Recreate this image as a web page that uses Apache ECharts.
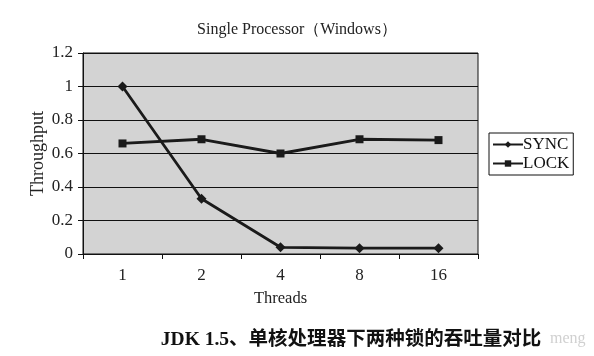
<!DOCTYPE html>
<html><head><meta charset="utf-8">
<script src="https://cdn.jsdelivr.net/npm/echarts@6/dist/echarts.min.js"></script>
<style>html,body{margin:0;padding:0;background:#fff}#c{width:594px;height:356px}</style>
</head><body><div id="c"></div>
<script>
const categories = ['1','2','4','8','16'];
const syncValues = [1.0, 0.33, 0.04, 0.035, 0.035];
const lockValues = [0.66, 0.685, 0.6, 0.685, 0.68];
const yTicks = [0, 0.2, 0.4, 0.6, 0.8, 1, 1.2];

const serif = '"Liberation Serif","DejaVu Serif",serif';
const chart = echarts.init(document.getElementById('c'));
chart.setOption({
  backgroundColor: '#fff',
  animation: false,
  title: [{
    text: 'Single Processor（Windows）',
    left: 292, top: 17, textAlign: 'center',
    textStyle: { fontFamily: serif, fontSize: 16, fontWeight: 'normal', color: '#222' }
  }, {
    text: 'JDK 1.5、单核处理器下两种锁的吞吐量对比',
    left: 346, top: 325, textAlign: 'center',
    textStyle: { fontFamily: '"Liberation Serif","Noto Sans CJK SC",serif', fontSize: 19.5, fontWeight: 'bold', color: '#111' }
  }, {
    text: 'meng',
    left: 545, top: 326,
    textStyle: { fontFamily: serif, fontSize: 16, fontWeight: 'normal', color: '#d0d0d0' }
  }],
  legend: {
    orient: 'vertical',
    left: 489, top: 133,
    width: 84,
    itemWidth: 30, itemHeight: 8, itemGap: 2,
    padding: [3, 4, 3, 3],
    borderColor: '#111', borderWidth: 1,
    textStyle: { fontFamily: serif, fontSize: 17, color: '#111', padding: [0, 0, 0, -5] },
    data: ['SYNC', 'LOCK']
  },
  grid: { left: 83, right: 116, top: 53, bottom: 102, show: true, backgroundColor: '#d3d3d3', borderColor: '#111', borderWidth: 1 },
  xAxis: {
    type: 'category', data: categories, boundaryGap: true,
    name: 'Threads', nameLocation: 'middle', nameGap: 36, nameMoveOverlap: false,
    nameTextStyle: { fontFamily: serif, fontSize: 16.5, color: '#222' },
    axisLine: { lineStyle: { color: '#111', width: 1 } },
    axisTick: { show: true, length: 5, inside: false, lineStyle: { color: '#111' } },
    axisLabel: { fontFamily: serif, fontSize: 17, color: '#222', margin: 13 }
  },
  yAxis: {
    type: 'value', min: 0, max: 1.2, interval: 0.2,
    name: 'Throughput', nameLocation: 'middle', nameGap: 36, nameMoveOverlap: false,
    nameTextStyle: { fontFamily: serif, fontSize: 18, color: '#222' },
    axisLine: { show: true, lineStyle: { color: '#111' } },
    axisTick: { show: true, length: 5, lineStyle: { color: '#111' } },
    splitLine: { show: true, lineStyle: { color: '#111', width: 1 } },
    axisLabel: { fontFamily: serif, fontSize: 17, color: '#222', margin: 10,
      formatter: v => { const t = yTicks.find(x => Math.abs(x - v) < 1e-9); return t === undefined ? '' : String(t); } }
  },
  series: [{
    name: 'SYNC', type: 'line', data: syncValues,
    symbol: 'diamond', symbolSize: 10,
    lineStyle: { color: '#1a1a1a', width: 2.8 },
    itemStyle: { color: '#1a1a1a' }
  }, {
    name: 'LOCK', type: 'line', data: lockValues,
    symbol: 'rect', symbolSize: 8,
    lineStyle: { color: '#1a1a1a', width: 2.8 },
    itemStyle: { color: '#1a1a1a' }
  }]
});
</script></body></html>
